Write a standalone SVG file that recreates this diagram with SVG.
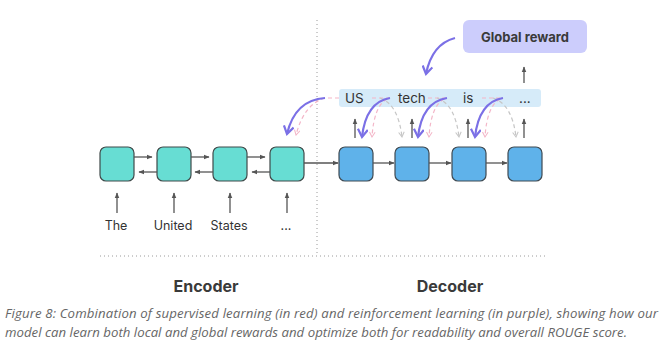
<svg xmlns="http://www.w3.org/2000/svg" width="669" height="347" viewBox="0 0 669 347">
<defs>
<style>
.enc{fill:#67ddd3;stroke:#3f4a4a;stroke-width:1.2}
.dec{fill:#5fb2ea;stroke:#3f4a52;stroke-width:1.2}
.ln{stroke:#555;stroke-width:1.3;fill:none}
.pur{stroke:#7b70e6;stroke-width:2.2;fill:none}
.pink{stroke:#f3b6c8;stroke-width:1.2;fill:none;stroke-dasharray:4 3}
.gray{stroke:#c6c6c6;stroke-width:1.2;fill:none;stroke-dasharray:4 3}
.dot{stroke:#9a9a9a;stroke-width:1;stroke-dasharray:1 3;fill:none}
.tok{font-family:Inter,"Liberation Sans",sans-serif;font-size:13.5px;fill:#333}
.word{font-family:Inter,"Liberation Sans",sans-serif;font-size:12.5px;fill:#333;text-anchor:middle}
.lbl{font-family:Inter,"Liberation Sans",sans-serif;font-size:16px;font-weight:bold;fill:#3a3a3a;text-anchor:middle}
.cap{font-family:"Open Sans","Liberation Sans",sans-serif;font-size:13.2px;font-style:italic;fill:#666}
</style>
<marker id="ah" viewBox="0 0 10 10" refX="9" refY="5" markerWidth="6" markerHeight="6" orient="auto-start-reverse" markerUnits="userSpaceOnUse">
<path d="M0,1 L10,5 L0,9 Z" fill="#555"/>
</marker>
<marker id="ahp" viewBox="0 0 10 10" refX="8" refY="5" markerWidth="11" markerHeight="11" orient="auto" markerUnits="userSpaceOnUse">
<path d="M1,0.5 L8,5 L1,9.5" fill="none" stroke="#7b70e6" stroke-width="2"/>
</marker>
<marker id="ahk" viewBox="0 0 10 10" refX="8" refY="5" markerWidth="7" markerHeight="7" orient="auto" markerUnits="userSpaceOnUse">
<path d="M1,1 L8,5 L1,9" fill="none" stroke="#f3b6c8" stroke-width="1.5"/>
</marker>
<marker id="ahg" viewBox="0 0 10 10" refX="8" refY="5" markerWidth="7" markerHeight="7" orient="auto" markerUnits="userSpaceOnUse">
<path d="M1,1 L8,5 L1,9" fill="none" stroke="#c6c6c6" stroke-width="1.5"/>
</marker>
</defs>
<rect width="669" height="347" fill="#fff"/>

<g id="dividers">
<line class="dot" x1="317" y1="20" x2="317" y2="256"/>
<line class="dot" x1="100" y1="256" x2="546" y2="256"/>
</g>

<g id="tokens">
<rect x="339" y="89" width="202" height="18" rx="3" fill="#d6ebf9"/>
<text class="tok" x="345" y="103">US</text>
<text class="tok" x="398" y="103">tech</text>
<text class="tok" x="463" y="103">is</text>
<text class="tok" x="519" y="103">...</text>
</g>

<g id="global-reward">
<rect x="463" y="20" width="124" height="33" rx="6" fill="#cccdfc"/>
<text x="525" y="41.5" font-family="Inter,'Liberation Sans',sans-serif" font-size="13" font-weight="bold" fill="#3a3a3a" text-anchor="middle">Global reward</text>
</g>

<g id="enc1"><rect class="enc" x="100" y="147" width="34" height="34" rx="6"/></g>
<g id="enc2"><rect class="enc" x="157" y="147" width="34" height="34" rx="6"/></g>
<g id="enc3"><rect class="enc" x="213" y="147" width="34" height="34" rx="6"/></g>
<g id="enc4"><rect class="enc" x="270" y="147" width="34" height="34" rx="6"/></g>
<g id="dec1"><rect class="dec" x="339" y="147" width="34" height="34" rx="6"/></g>
<g id="dec2"><rect class="dec" x="395" y="147" width="34" height="34" rx="6"/></g>
<g id="dec3"><rect class="dec" x="452" y="147" width="34" height="34" rx="6"/></g>
<g id="dec4"><rect class="dec" x="508" y="147" width="34" height="34" rx="6"/></g>

<g id="words">
<text class="word" x="116" y="230">The</text>
<text class="word" x="173" y="230">United</text>
<text class="word" x="229" y="230">States</text>
<text class="word" x="286" y="230">...</text>
</g>

<g id="labels">
<text class="lbl" x="206" y="292">Encoder</text>
<text class="lbl" x="450" y="292">Decoder</text>
</g>

<g id="caption">
<text class="cap" x="5" y="318" textLength="653" lengthAdjust="spacing">Figure 8: Combination of supervised learning (in red) and reinforcement learning (in purple), showing how our</text>
<text class="cap" x="5" y="337" textLength="622" lengthAdjust="spacing">model can learn both local and global rewards and optimize both for readability and overall ROUGE score.</text>
</g>

<g id="connectors">
<line class="ln" x1="134" y1="157" x2="152" y2="157" marker-end="url(#ah)"/>
<line class="ln" x1="157" y1="172" x2="139" y2="172" marker-end="url(#ah)"/>
<line class="ln" x1="191" y1="157" x2="209" y2="157" marker-end="url(#ah)"/>
<line class="ln" x1="213" y1="172" x2="195" y2="172" marker-end="url(#ah)"/>
<line class="ln" x1="247" y1="157" x2="265" y2="157" marker-end="url(#ah)"/>
<line class="ln" x1="270" y1="172" x2="252" y2="172" marker-end="url(#ah)"/>
<line class="ln" x1="304" y1="163" x2="338" y2="163" marker-end="url(#ah)"/>
<line class="ln" x1="373" y1="163" x2="394" y2="163" marker-end="url(#ah)"/>
<line class="ln" x1="429" y1="163" x2="451" y2="163" marker-end="url(#ah)"/>
<line class="ln" x1="486" y1="163" x2="507" y2="163" marker-end="url(#ah)"/>
<line class="ln" x1="117" y1="213" x2="117" y2="193" marker-end="url(#ah)"/>
<line class="ln" x1="174" y1="213" x2="174" y2="193" marker-end="url(#ah)"/>
<line class="ln" x1="230" y1="213" x2="230" y2="193" marker-end="url(#ah)"/>
<line class="ln" x1="287" y1="213" x2="287" y2="193" marker-end="url(#ah)"/>
<line class="ln" x1="355" y1="138" x2="355" y2="119" marker-end="url(#ah)"/>
<line class="ln" x1="412" y1="138" x2="412" y2="119" marker-end="url(#ah)"/>
<line class="ln" x1="468" y1="138" x2="468" y2="119" marker-end="url(#ah)"/>
<line class="ln" x1="524" y1="138" x2="524" y2="119" marker-end="url(#ah)"/>
<line class="ln" x1="524" y1="83" x2="524" y2="67" marker-end="url(#ah)"/>
<path class="pur" d="M455,38 Q432,44 426,74" marker-end="url(#ahp)"/>
<path class="pink" d="M339,98 L325,98 Q304,104 296,135" marker-end="url(#ahk)"/>
<path class="pur" d="M325,98 Q295,100 287,134" marker-end="url(#ahp)"/>
<path class="pink" d="M372,98 L390,98"/>
<path class="gray" d="M380,98 Q398,104 402,137" marker-end="url(#ahg)"/>
<path class="pink" d="M387,99 Q374,106 372,137" marker-end="url(#ahk)"/>
<path class="pur" d="M390,98 Q366,102 362,137" marker-end="url(#ahp)"/>
<path class="pink" d="M428,98 L447,98"/>
<path class="gray" d="M437,98 Q455,104 459,137" marker-end="url(#ahg)"/>
<path class="pink" d="M444,99 Q431,106 429,137" marker-end="url(#ahk)"/>
<path class="pur" d="M447,98 Q422,102 418,137" marker-end="url(#ahp)"/>
<path class="pink" d="M482,98 L503,98"/>
<path class="gray" d="M493,98 Q512,104 516,137" marker-end="url(#ahg)"/>
<path class="pink" d="M500,99 Q487,106 485,137" marker-end="url(#ahk)"/>
<path class="pur" d="M503,98 Q479,102 475,137" marker-end="url(#ahp)"/>
</g>
</svg>
